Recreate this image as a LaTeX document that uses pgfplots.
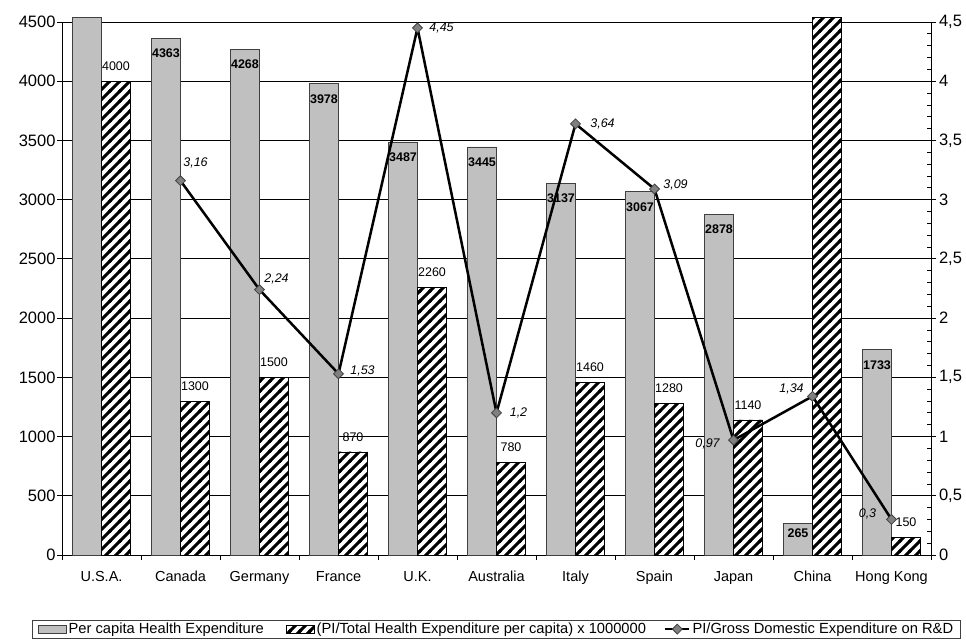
\documentclass[border=0pt]{standalone}
\usepackage{fontspec}
\setmainfont{Liberation Sans}
\usepackage{pgfplots}
\pgfplotsset{compat=1.18}
\usepackage{pgfplotstable}
\usetikzlibrary{patterns}

\definecolor{barGray}{RGB}{192,192,192}
\definecolor{edgeGray}{RGB}{64,64,64}
\definecolor{markGray}{RGB}{128,128,128}

\newcommand\tkfont{\fontsize{16.5}{19}\selectfont}
\newcommand\catfont{\fontsize{14.5}{17}\selectfont}
\newcommand\lgfont{\fontsize{14.7}{17}\selectfont}
\newcommand\labfont{\fontsize{12.5}{15}\selectfont}

% thick diagonal hatching like the spreadsheet fill
\pgfdeclarepatternformonly{hatch}{\pgfqpoint{-1pt}{-1pt}}{\pgfqpoint{11pt}{11pt}}{\pgfqpoint{10pt}{10pt}}{
    \pgfsetlinewidth{3pt}
    \pgfpathmoveto{\pgfqpoint{-1pt}{-1pt}}\pgfpathlineto{\pgfqpoint{11pt}{11pt}}
    \pgfpathmoveto{\pgfqpoint{-1pt}{9pt}}\pgfpathlineto{\pgfqpoint{1pt}{11pt}}
    \pgfpathmoveto{\pgfqpoint{9pt}{-1pt}}\pgfpathlineto{\pgfqpoint{11pt}{1pt}}
    \pgfusepath{stroke}}

\pgfplotsset{
    boxlegend/.style={legend image code/.code={\draw[##1] (0pt,-4pt) rectangle (28pt,4pt);}},
    linelegend/.style={legend image code/.code={%
        \draw[##1, mark=none] (0pt,0pt) -- (24pt,0pt);
        \path[##1] plot[only marks] coordinates {(12pt,0pt)};}},
}

% per capita health expenditure (USA bar runs past the top)
\pgfplotstableread{
x y lbl dy
0 4540 {} -15
1 4363 4363 -15
2 4268 4268 -15
3 3978 3978 -15
4 3487 3487 -15
5 3445 3445 -15
6 3137 3137 -15
7 3067 3067 -15
8 2878 2878 -15
9 265 265 -10
10 1733 1733 -15
}\health

% (PI / total health expenditure per capita) x 1e6 (China runs past the top)
\pgfplotstableread{
x y lbl
0 4000 4000
1 1300 1300
2 1500 1500
3 870 870
4 2260 2260
5 780 780
6 1460 1460
7 1280 1280
8 1140 1140
9 4540 {}
10 150 150
}\ratio

% PI / gross domestic expenditure on R&D, dx dy = label offset
\pgfplotstableread{
x y dx dy
1 3.16 15 18
2 2.24 17 11
3 1.53 24 3
4 4.45 24 0
5 1.2 22 0
6 3.64 27 0
7 3.09 21 4
8 0.97 -26 -4
9 1.34 -21 7
10 0.3 -24 6
}\rnd

\begin{document}
\begin{tikzpicture}
\begin{axis}[
    name=ax,
    scale only axis,
    width=869pt, height=533pt,
    xmin=-0.5, xmax=10.5,
    ymin=0, ymax=4500,
    clip=false,
    ybar, bar width=29pt,
    xtick={-0.5,0.5,...,10.5},
    x tick label as interval,
    xticklabels={U.S.A.,Canada,Germany,France,U.K.,Australia,Italy,Spain,Japan,China,Hong Kong},
    xtick pos=bottom, ytick pos=left,
    ytick={0,500,...,4500},
    scaled y ticks=false,
    /pgf/number format/assume math mode=true,
    /pgf/number format/1000 sep={},
    tick align=outside, major tick length=5pt,
    ymajorgrids,
    major grid style={black, line width=0.8pt},
    axis line style={black, line width=0.8pt},
    tick style={black, line width=0.8pt},
    yticklabel style={font=\tkfont, xshift=2pt},
    xticklabel style={font=\catfont, text height=11pt, text depth=3pt, yshift=-7pt},
    legend columns=-1,
    legend cell align=left,
    legend style={at={(0.5,-0.139)}, anchor=center,
        draw=edgeGray, line width=0.8pt, font=\lgfont,
        inner xsep=5pt, inner ysep=1pt,
        nodes={inner xsep=2pt},
        /tikz/every odd column/.append style={column sep=0pt},
        /tikz/column 2/.style={column sep=20pt},
        /tikz/column 4/.style={column sep=16pt}},
]
\addplot[fill=barGray, draw=edgeGray, line width=0.8pt, bar shift=-14.5pt,
    point meta=explicit symbolic,
    visualization depends on={\thisrow{dy} \as \dy},
    nodes near coords,
    every node near coord/.append style={font=\labfont\bfseries, text=black,
        anchor=center, yshift=\dy pt},
    boxlegend]
    table[x=x, y=y, meta=lbl] {\health};
% white ground under the hatching, so the grid does not show through
\addplot[fill=white, draw=none, bar shift=14.5pt, forget plot]
    table[x=x, y=y] {\ratio};
\addplot[pattern=hatch, draw=black, line width=0.8pt, bar shift=14.5pt,
    point meta=explicit symbolic,
    nodes near coords,
    every node near coord/.append style={font=\labfont, text=black,
        anchor=center, yshift=15pt},
    boxlegend]
    table[x=x, y=y, meta=lbl] {\ratio};
\addlegendimage{black, line width=2.5pt, mark=square*, mark size=3.5pt,
    mark options={rotate=45, fill=markGray, draw=edgeGray, line width=0.8pt},
    linelegend}
\legend{Per capita Health Expenditure,
    (PI/Total Health Expenditure per capita) x 1000000,
    PI/Gross Domestic Expenditure on R\&D}
\end{axis}

\begin{axis}[
    scale only axis,
    width=869pt, height=533pt,
    xmin=-0.5, xmax=10.5,
    ymin=0, ymax=4.5,
    clip=false,
    axis x line=none,
    axis y line*=right,
    ytick={0,0.5,...,4.5},
    minor y tick num=4,
    /pgf/number format/assume math mode=true,
    tick align=center,
    major tick length=9pt, minor tick length=4pt,
    minor tick style={xshift=-2pt},
    axis line style={black, line width=0.8pt},
    tick style={black, line width=0.8pt},
    yticklabel style={font=\tkfont, /pgf/number format/use comma},
]
\addplot[black, line width=2.5pt, mark=square*, mark size=3.5pt,
    mark options={rotate=45, fill=markGray, draw=edgeGray, line width=0.8pt},
    point meta=y,
    visualization depends on={\thisrow{dx} \as \dx},
    visualization depends on={\thisrow{dy} \as \dy},
    nodes near coords={\pgfmathprintnumber[fixed, use comma, precision=2]{\pgfplotspointmeta}},
    every node near coord/.append style={font=\labfont\itshape, text=black,
        anchor=center, xshift=\dx pt, yshift=\dy pt}]
    table[x=x, y=y] {\rnd};
\end{axis}

% page frame of the reference, axis box at (62,22)-(931,555) px
\pgfresetboundingbox
\path ([shift={(-62pt,-86pt)}]ax.south west) rectangle ([shift={(904pt,555pt)}]ax.south west);
\end{tikzpicture}
\end{document}
